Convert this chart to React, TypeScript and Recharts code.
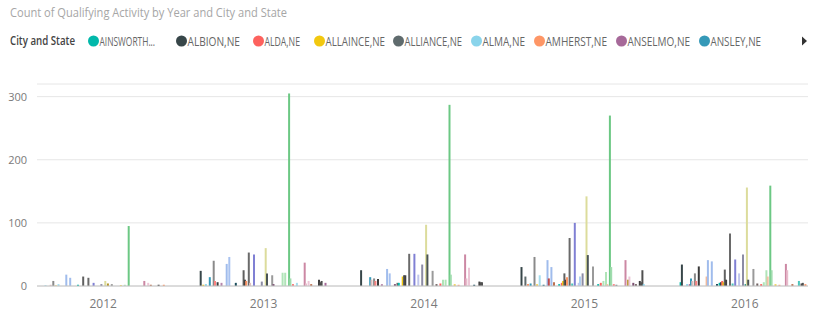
import React from 'react';
import { BarChart, Bar, XAxis, YAxis, CartesianGrid } from 'recharts';

const years = ['2012', '2013', '2014', '2015', '2016'];

const cities = [
  'AINSWORTH,NE', 'ALBION,NE', 'ALDA,NE', 'ALLAINCE,NE', 'ALLIANCE,NE', 'ALMA,NE', 'AMHERST,NE', 'ANSELMO,NE', 'ANSLEY,NE', 'ARAPAHOE,NE',
  'ARCADIA,NE', 'ARLINGTON,NE', 'ASHLAND,NE', 'ATKINSON,NE', 'AUBURN,NE', 'AURORA,NE', 'AXTELL,NE', 'BANCROFT,NE', 'BASSETT,NE', 'BATTLE CREEK,NE',
  'BAYARD,NE', 'BEATRICE,NE', 'BEAVER CITY,NE', 'BELLEVUE,NE', 'BENKELMAN,NE', 'BENNINGTON,NE', 'BLAIR,NE', 'BLOOMFIELD,NE', 'BLUE HILL,NE', 'BRIDGEPORT,NE',
  'BROKEN BOW,NE', 'BURWELL,NE', 'CAIRO,NE', 'CALLAWAY,NE', 'CAMBRIDGE,NE', 'CENTRAL CITY,NE', 'CHADRON,NE', 'CHAPPELL,NE', 'CLARKSON,NE', 'CLAY CENTER,NE',
  'COLUMBUS,NE', 'COZAD,NE', 'CRAWFORD,NE', 'CREIGHTON,NE', 'CRETE,NE', 'CURTIS,NE', 'DAVID CITY,NE', 'DESHLER,NE', 'ELKHORN,NE', 'ELWOOD,NE',
  'FAIRBURY,NE', 'FALLS CITY,NE', 'FREMONT,NE', 'FRIEND,NE', 'FULLERTON,NE', 'GENEVA,NE', 'GENOA,NE', 'GERING,NE', 'GIBBON,NE', 'GORDON,NE',
  'GOTHENBURG,NE', 'GRAND ISLAND,NE', 'GRANT,NE', 'GRETNA,NE', 'HARTINGTON,NE', 'HASTINGS,NE', 'HOLDREGE,NE', 'KEARNEY,NE', 'LEXINGTON,NE', 'LINCOLN,NE',
  'LOUP CITY,NE', 'MADISON,NE', 'MCCOOK,NE', 'MILFORD,NE', 'MINDEN,NE', 'NEBRASKA CITY,NE', 'NELIGH,NE', 'NORFOLK,NE', 'NORTH PLATTE,NE', 'OGALLALA,NE',
  'OMAHA,NE', 'ORD,NE', 'OSCEOLA,NE', 'PAPILLION,NE', 'PLATTSMOUTH,NE', 'RAVENNA,NE', 'SCHUYLER,NE', 'SCOTTSBLUFF,NE', 'SEWARD,NE', 'SIDNEY,NE',
  'SUPERIOR,NE', 'SUTTON,NE', 'SYRACUSE,NE', 'TECUMSEH,NE', 'TEKAMAH,NE', 'VALENTINE,NE', 'WAHOO,NE', 'WAYNE,NE', 'WEST POINT,NE', 'YORK,NE',
];

// one value per city, same order as cities
const counts2012 = [
  0, 0, 0, 0, 0, 1, 0, 0, 0, 2,
  0, 8, 0, 1, 0, 3, 0, 0, 0, 0,
  0, 18, 0, 0, 13, 0, 0, 0, 0, 0,
  2, 0, 0, 0, 15, 0, 0, 0, 13, 0,
  0, 0, 5, 0, 0, 0, 0, 0, 3, 0,
  0, 8, 0, 4, 0, 0, 3, 0, 0, 0,
  0, 0, 0, 1, 0, 0, 2, 0, 0, 95,
  0, 0, 0, 0, 0, 0, 0, 0, 0, 0,
  0, 8, 0, 0, 5, 0, 2, 0, 0, 0,
  0, 0, 2, 0, 0, 0, 2, 0, 0, 0,
];

const counts2013 = [
  0, 24, 0, 2, 0, 3, 0, 0, 14, 0,
  0, 40, 8, 0, 6, 0, 0, 5, 0, 0,
  0, 35, 0, 46, 0, 0, 0, 0, 5, 0,
  0, 0, 0, 0, 25, 10, 8, 0, 53, 5,
  0, 0, 50, 0, 0, 0, 0, 0, 7, 0,
  0, 60, 20, 0, 0, 0, 17, 3, 0, 0,
  0, 0, 0, 0, 21, 0, 21, 0, 0, 305,
  12, 0, 3, 0, 0, 5, 0, 0, 0, 0,
  0, 37, 4, 0, 8, 0, 3, 0, 0, 0,
  0, 0, 10, 6, 8, 0, 0, 5, 0, 0,
];

const counts2014 = [
  0, 25, 0, 0, 0, 0, 0, 0, 14, 10,
  0, 12, 8, 0, 11, 0, 0, 3, 0, 0,
  0, 27, 0, 20, 0, 0, 0, 3, 0, 5,
  5, 0, 0, 15, 17, 17, 0, 0, 51, 0,
  0, 0, 51, 0, 0, 18, 0, 0, 34, 0,
  0, 97, 50, 0, 0, 0, 24, 0, 0, 3,
  0, 0, 4, 0, 10, 0, 10, 0, 0, 287,
  18, 0, 0, 3, 0, 0, 2, 0, 0, 0,
  0, 50, 12, 0, 29, 0, 0, 0, 2, 0,
  0, 0, 7, 6, 6, 0, 0, 0, 0, 0,
];

const counts2015 = [
  0, 30, 0, 0, 15, 0, 3, 0, 4, 0,
  0, 46, 0, 3, 0, 17, 0, 0, 2, 0,
  0, 41, 12, 0, 30, 0, 6, 0, 0, 0,
  3, 0, 5, 8, 20, 10, 14, 0, 76, 0,
  4, 0, 100, 0, 0, 5, 15, 0, 20, 0,
  0, 142, 49, 0, 0, 0, 31, 0, 0, 0,
  3, 0, 5, 0, 8, 0, 22, 3, 0, 270,
  30, 0, 3, 0, 2, 0, 0, 0, 0, 0,
  0, 41, 0, 10, 15, 0, 0, 5, 0, 3,
  0, 0, 8, 6, 25, 3, 0, 0, 0, 0,
];

const counts2016 = [
  6, 34, 0, 0, 0, 3, 0, 3, 12, 8,
  0, 20, 8, 0, 31, 0, 0, 0, 0, 0,
  15, 41, 0, 0, 39, 0, 0, 0, 3, 0,
  5, 6, 8, 6, 26, 10, 0, 0, 83, 0,
  4, 0, 42, 0, 0, 20, 0, 0, 50, 0,
  3, 156, 10, 0, 0, 0, 27, 0, 0, 4,
  0, 0, 3, 0, 6, 0, 25, 15, 0, 159,
  25, 0, 0, 3, 0, 0, 2, 0, 0, 0,
  0, 35, 25, 0, 0, 0, 3, 0, 0, 0,
  0, 8, 0, 4, 5, 0, 3, 0, 0, 0,
];

const yTicks = [0, 100, 200, 300];

const countsByYear = [counts2012, counts2013, counts2014, counts2015, counts2016];

const data = years.map((year, yi) => {
  const row: Record<string, string | number> = { year };
  cities.forEach((_, ci) => {
    row['c' + ci] = countsByYear[yi][ci];
  });
  return row;
});

// power bi default palette, then a few hand-picked tints for cities that stand out
const basePalette = [
  '#01B8AA', '#374649', '#FD625E', '#F2C80F', '#5F6B6D', '#8AD4EB', '#FE9666', '#A66999', '#3599B8', '#DFBFBF',
  '#4AC5BB', '#5F6B6D', '#FB8281', '#F4D25A', '#7F898A', '#A4DDEE', '#FDAB89', '#B687AC', '#28738A', '#A78F8F',
  '#168980', '#293537', '#BB4A4A', '#B59525', '#475052', '#6A9FB0', '#BD7150', '#7B4F71', '#1B4D5C', '#706060',
];
const tints: Record<number, string> = {
  11: '#8a8a8a', 14: '#3a3a3a', 20: '#f4b896', 21: '#a0bcec', 23: '#a8c2f0', 24: '#a0bcec',
  34: '#606060', 35: '#404040', 38: '#6a6a6a', 42: '#8080d4', 45: '#c0c6ec', 46: '#b0d0f0',
  48: '#8c8ca4', 51: '#dcdc9c', 52: '#4a5456', 56: '#9a9a9a', 64: '#b0e4b8', 66: '#b0e4b8',
  67: '#f2c0a4', 69: '#6cc884', 70: '#a0dcae', 81: '#cc88a4', 82: '#e8bccc', 84: '#ecc6d6',
  91: '#4AC5BB', 92: '#404040', 93: '#505050', 94: '#505050',
};
const colorOf = (i: number) => tints[i] ?? basePalette[i % basePalette.length];

// legend slots as laid out in the report (text start, text width)
const legendSlots = [
  { x: 99, w: 56 }, { x: 187, w: 53 }, { x: 264, w: 36 }, { x: 325, w: 60 }, { x: 404, w: 58 },
  { x: 482, w: 43 }, { x: 545, w: 62 }, { x: 627, w: 63 }, { x: 710, w: 51 },
];

const font = '"Open Sans", "Noto Sans", sans-serif';

const shortName = (name: string) => (name.length > 11 ? name.slice(0, 9) + '...' : name);

function Header() {
  const ly = 41;
  return (
    <svg width={817} height={60} style={{ position: 'absolute', left: 0, top: 0 }}>
      <text x={10} y={17} fontFamily={font} fontSize={13} fill="#a6a6a6" textLength={277} lengthAdjust="spacingAndGlyphs">
        Count of Qualifying Activity by Year and City and State
      </text>
      <text x={10} y={ly + 4} fontFamily={font} fontSize={12} fontWeight={600} fill="#444" textLength={65} lengthAdjust="spacingAndGlyphs">
        City and State
      </text>
      {legendSlots.map((s, i) => (
        <g key={cities[i]}>
          <circle cx={s.x - 5.5} cy={ly} r={5.5} fill={basePalette[i]} />
          <text x={s.x + 0.5} y={ly + 4.5} fontFamily={font} fontSize={12.5} fill="#666" textLength={s.w - 0.5} lengthAdjust="spacingAndGlyphs">
            {shortName(cities[i])}
          </text>
        </g>
      ))}
      <path d="M802,36.5 L807,41 L802,45.5 Z" fill="#333" />
    </svg>
  );
}

export default function App() {
  return (
    <div style={{ position: 'absolute', left: 0, top: 0, width: 817, height: 313, background: '#fff' }}>
      <BarChart
        width={817}
        height={313}
        data={data}
        margin={{ top: 84, right: 9, bottom: 0, left: 0 }}
        barSize={2}
        barGap={-0.7}
      >
        <CartesianGrid vertical={false} stroke="#e6e6e6" />
        <XAxis
          dataKey="year"
          height={27}
          padding={{ left: -14, right: -17 }}
          tickLine={false}
          axisLine={{ stroke: '#c4c4c4' }}
          tickMargin={7}
          tick={{ fill: '#7a7a7a', fontSize: 12, fontFamily: font }}
        />
        <YAxis
          width={37}
          domain={[0, 320]}
          ticks={yTicks}
          axisLine={false}
          tickLine={false}
          tickMargin={4}
          tick={{ fill: '#7a7a7a', fontSize: 11, fontFamily: font }}
        />
        {cities.map((city, i) => (
          <Bar key={city} dataKey={'c' + i} name={city} fill={colorOf(i)} isAnimationActive={false} />
        ))}
      </BarChart>
      <Header />
    </div>
  );
}
